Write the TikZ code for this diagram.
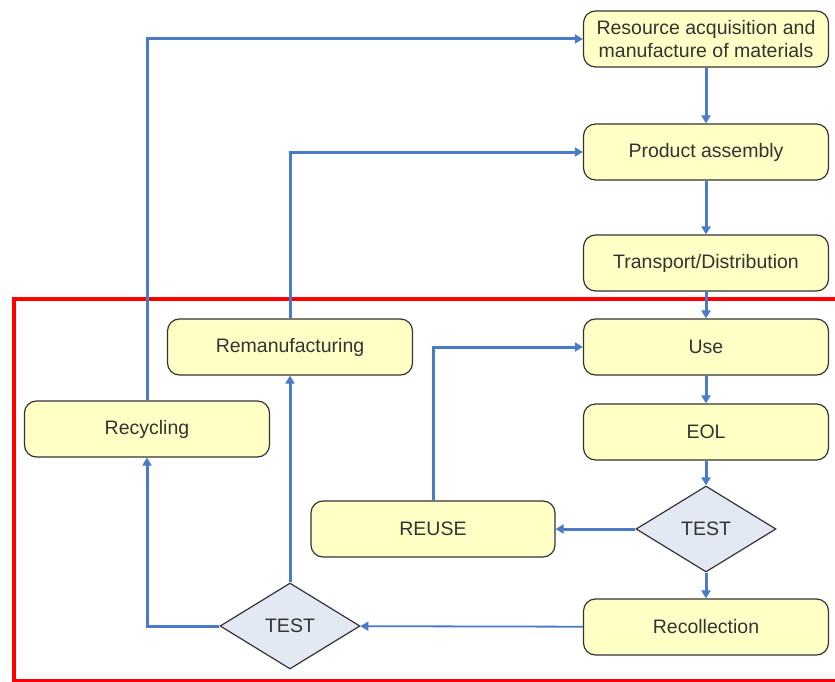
\documentclass[tikz,border=0pt]{standalone}
\usepackage{fontspec}
\setmainfont{Liberation Sans}
\usetikzlibrary{shapes.geometric,arrows.meta}
\definecolor{boxfill}{HTML}{FFFFC6}
\definecolor{dfill}{HTML}{E2E8F4}
\definecolor{lineblue}{HTML}{4A7BC8}
\definecolor{edge}{HTML}{333333}
\tikzset{
  stepbox/.style={draw=edge, line width=1.2pt, fill=boxfill, rounded corners=12pt,
    minimum width=245pt, minimum height=56pt, align=center, inner sep=2pt,
    font=\fontsize{19.5}{23}\selectfont, text=black!80},
  testbox/.style={draw=edge, line width=1.2pt, fill=dfill, diamond, aspect=1.6,
    minimum width=140pt, minimum height=86pt, inner sep=0pt,
    font=\fontsize{19.5}{23}\selectfont, text=black!80},
  flow/.style={draw=lineblue, line width=3pt, -{Triangle[length=8pt,width=9pt]}},
  thinflow/.style={draw=lineblue, line width=1.8pt, -{Triangle[length=8pt,width=9pt]}},
}
\begin{document}
\begin{tikzpicture}[x=1pt,y=-1pt]
\useasboundingbox (0,0) rectangle (835,682);
% red frame
\draw[red, line width=3.5pt] (14,682) -- (14,299) -- (840,299);
\draw[red, line width=3.5pt] (14,680.5) -- (840,680.5);

\node[stepbox] (res) at (706,39) {Resource acquisition and\\manufacture of materials};
\node[stepbox] (asm) at (706,152) {Product assembly};
\node[stepbox] (tra) at (706,263) {Transport/Distribution};
\node[stepbox] (use) at (706,347) {Use};
\node[stepbox] (eol) at (706,432) {EOL};
\node[testbox] (t1) at (706,529) {TEST};
\node[stepbox, minimum width=244pt] (reu) at (433,529) {REUSE};
\node[stepbox] (rec) at (706,627) {Recollection};
\node[testbox] (t2) at (290,626) {TEST};
\node[stepbox] (cyc) at (147,429) {Recycling};
\node[stepbox] (rem) at (290,347) {Remanufacturing};

\draw[flow] (res) -- (asm);
\draw[flow] (asm) -- (tra);
\draw[flow] (tra) -- (use);
\draw[flow] (use) -- (eol);
\draw[flow] (eol) -- (t1);
\draw[flow] (t1) -- (reu);
\draw[flow] (t1) -- (rec);
\draw[flow] (reu.north) |- (use.west);
\draw[thinflow] (rec) -- (t2);
\draw[flow] (t2) -- (rem);
\draw[flow] (t2.west) -| (cyc.south);
\draw[flow] (cyc.north) |- (res.west);
\draw[flow] (rem.north) |- (asm.west);
\end{tikzpicture}
\end{document}
